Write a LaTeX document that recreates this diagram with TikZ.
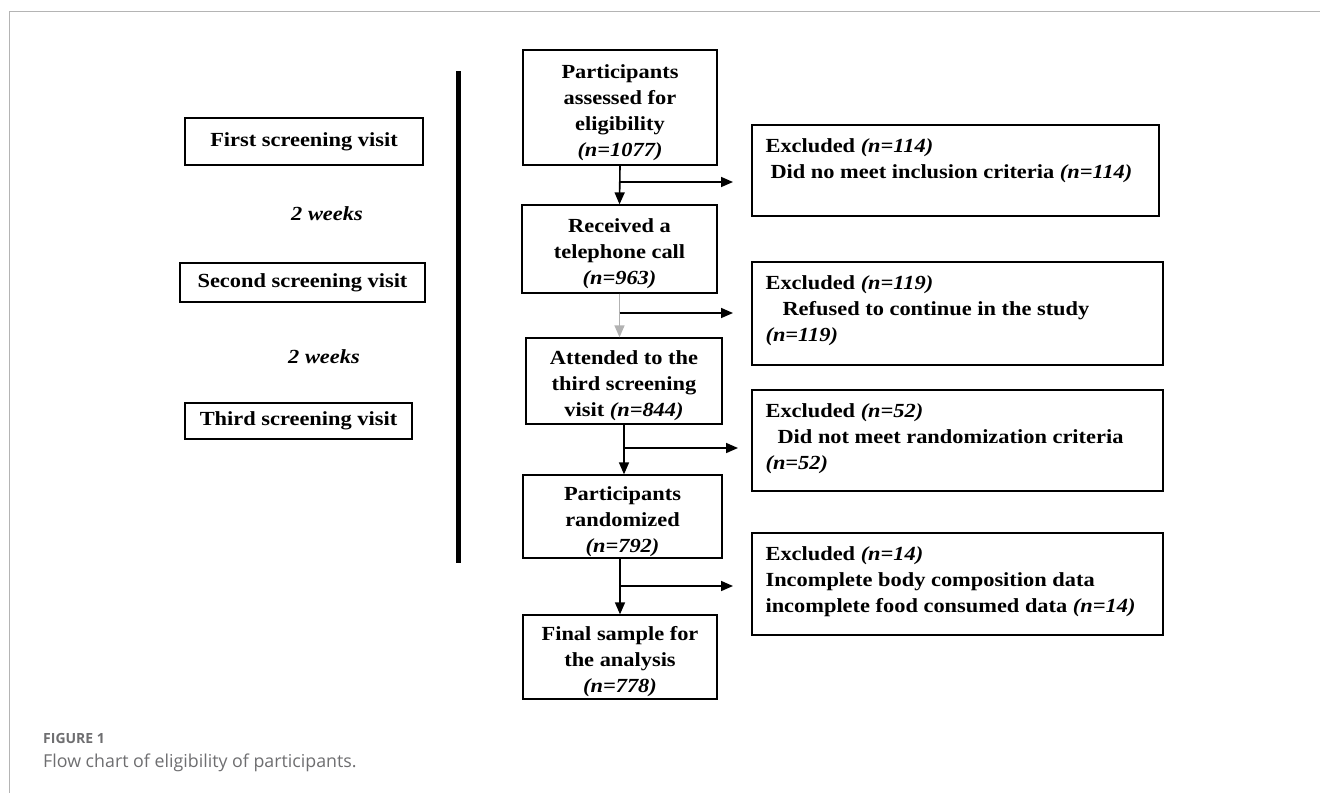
\documentclass[tikz,border=0pt]{standalone}
\usepackage{fontspec}
\setmainfont{Liberation Serif}[FakeStretch=1.12]
\newfontfamily\capfont{Open Sans}
\usetikzlibrary{arrows.meta}
\definecolor{capgray}{HTML}{6E6E70}
\definecolor{framegray}{HTML}{B4B4B4}
\newcommand{\lift}{\rule{0pt}{24pt}}

\begin{document}
\begin{tikzpicture}[x=1pt,y=-1pt,
  box/.style={draw,line width=1.3pt,inner sep=0pt},
  flow/.style={box,align=center,font=\bfseries\fontsize{20}{26}\selectfont},
  note/.style={anchor=north west,align=left,inner sep=0pt,font=\bfseries\fontsize{20}{26}\selectfont},
  visit/.style={box,font=\bfseries\fontsize{20}{24}\selectfont},
  arr/.style={line width=1.6pt,-{Triangle[length=12pt,width=10pt]}}]
\useasboundingbox (0,0) rectangle (1320,793);
%Frame
\draw[framegray,line width=1pt] (1320,11) -| (9,793);
%Visits
\node[visit,minimum width=238pt,minimum height=47pt] (first) at (304,141.5) {First screening visit};
\node[font=\bfseries\itshape\fontsize{20}{24}\selectfont] (wk1) at (327,214) {2 weeks};
\node[visit,minimum width=245pt,minimum height=39pt] (second) at (302.5,282.5) {Second screening visit};
\node[font=\bfseries\itshape\fontsize{20}{24}\selectfont] (wk2) at (324,357) {2 weeks};
\node[visit,minimum width=227pt,minimum height=36pt] (thirdv) at (298.5,421) {Third screening visit};
%Bar
\coordinate (bartop) at (458.5,71);
\coordinate (barbot) at (458.5,563);
\draw[line width=5pt] (bartop) -- (barbot);
%Flow
\node[flow,minimum width=194pt,minimum height=115pt] (assess) at (620,107.5) {\lift Participants\\assessed for\\eligibility\\\textit{(n=1077)}};
\node[flow,minimum width=195pt,minimum height=88pt] (call) at (619.5,249) {\lift Received a\\telephone call\\\textit{(n=963)}};
\node[flow,minimum width=196pt,minimum height=86pt] (third) at (624,381) {\lift Attended to the\\third screening\\visit \textit{(n=844)}};
\node[flow,minimum width=199pt,minimum height=83pt] (rand) at (622.5,516.5) {\lift Participants\\randomized\\\textit{(n=792)}};
\node[flow,minimum width=194pt,minimum height=84pt] (final) at (620,657) {\lift Final sample for\\the analysis\\\textit{(n=778)}};
%Excluded
\node[box,minimum width=407pt,minimum height=91pt] (ex1) at (955.5,170.5) {};
\node[note] (ex1t) at ([shift={(14,14)}]ex1.north west) {Excluded \textit{(n=114)}\\\hspace*{5pt}Did no meet inclusion criteria \textit{(n=114)}};
\node[box,minimum width=411pt,minimum height=103pt] (ex2) at (957.5,313.5) {};
\node[note] (ex2t) at ([shift={(14,14)}]ex2.north west) {Excluded \textit{(n=119)}\\\hspace*{17pt}Refused to continue in the study\\\textit{(n=119)}};
\node[box,minimum width=411pt,minimum height=101pt] (ex3) at (957.5,440.5) {};
\node[note] (ex3t) at ([shift={(14,14)}]ex3.north west) {Excluded \textit{(n=52)}\\\hspace*{12pt}Did not meet randomization criteria\\\textit{(n=52)}};
\node[box,minimum width=411pt,minimum height=102pt] (ex4) at (957.5,584) {};
\node[note] (ex4t) at ([shift={(14,14)}]ex4.north west) {Excluded \textit{(n=14)}\\Incomplete body composition data\\incomplete food consumed data \textit{(n=14)}};
%Arrows
\coordinate (e1) at (733,182);
\coordinate (e2) at (733,313);
\coordinate (e3) at (738,448);
\coordinate (e4) at (733,586);
\draw[arr] (assess.south) -- (call.north);
\draw[arr] (assess.south |- e1) -- (e1);
\draw[arr,draw=gray!60,fill=gray!60,line width=1.3pt] (call.south) -- (call.south |- third.north);
\draw[arr] (call.south |- e2) -- (e2);
\draw[arr] (third.south) -- (third.south |- rand.north);
\draw[arr] (third.south |- e3) -- (e3);
\draw[arr] (final.north |- rand.south) -- (final.north);
\draw[arr] (final.north |- e4) -- (e4);
%Caption
\node[anchor=base west,inner sep=0pt,text=capgray,font=\capfont\bfseries\fontsize{14}{16}\selectfont] (fig) at (43,743) {FIGURE 1};
\node[anchor=base west,inner sep=0pt,text=capgray,font=\capfont\fontsize{17.8}{21}\selectfont] (cap) at (43,767) {Flow chart of eligibility of participants.};
\end{tikzpicture}
\end{document}
